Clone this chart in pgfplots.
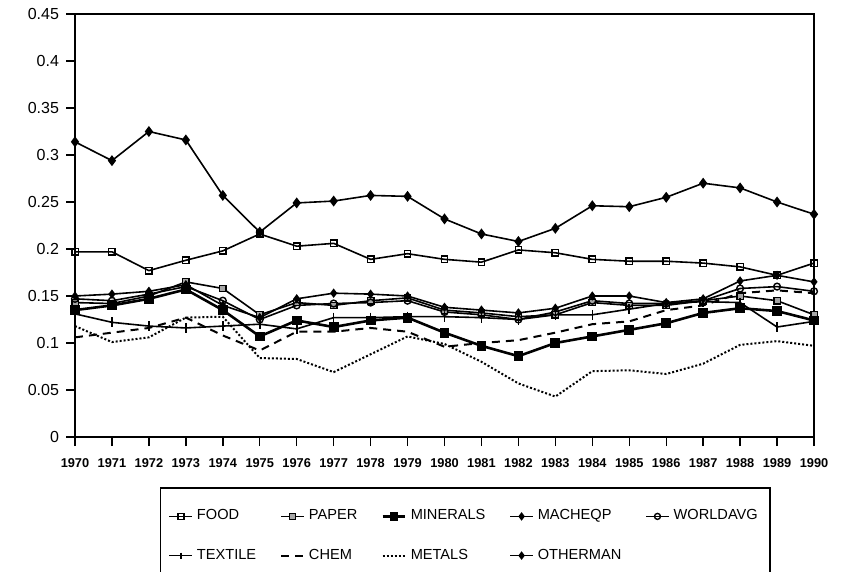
\documentclass[border=0pt]{standalone}
\usepackage{fontspec}
\setmainfont{Liberation Sans}
\usepackage{pgfplots}
\pgfplotsset{compat=1.18}
\usepackage{pgfplotstable}

\pgfplotstableread{
year food paper minerals macheqp worldavg textile chem metals otherman
1970 0.197 0.143 0.135 0.150 0.147 0.131 0.106 0.118 0.314
1971 0.197 0.142 0.140 0.152 0.145 0.122 0.111 0.101 0.294
1972 0.177 0.150 0.147 0.155 0.152 0.118 0.116 0.106 0.325
1973 0.188 0.165 0.157 0.162 0.160 0.116 0.127 0.127 0.316
1974 0.198 0.158 0.135 0.140 0.145 0.118 0.108 0.128 0.257
1975 0.216 0.130 0.107 0.127 0.125 0.120 0.092 0.084 0.218
1976 0.203 0.143 0.124 0.147 0.140 0.115 0.112 0.083 0.249
1977 0.206 0.140 0.117 0.153 0.142 0.127 0.112 0.069 0.251
1978 0.189 0.145 0.124 0.152 0.143 0.127 0.116 0.088 0.257
1979 0.195 0.148 0.127 0.150 0.145 0.128 0.112 0.107 0.256
1980 0.189 0.135 0.111 0.138 0.133 0.128 0.096 0.099 0.232
1981 0.186 0.132 0.097 0.135 0.130 0.127 0.100 0.080 0.216
1982 0.199 0.128 0.086 0.132 0.125 0.125 0.103 0.057 0.208
1983 0.196 0.130 0.100 0.137 0.133 0.130 0.111 0.043 0.222
1984 0.189 0.143 0.107 0.150 0.145 0.130 0.120 0.070 0.246
1985 0.187 0.140 0.114 0.150 0.142 0.136 0.123 0.071 0.245
1986 0.187 0.140 0.121 0.143 0.142 0.142 0.135 0.067 0.255
1987 0.185 0.145 0.132 0.147 0.145 0.144 0.140 0.078 0.270
1988 0.181 0.150 0.137 0.166 0.158 0.143 0.153 0.098 0.265
1989 0.172 0.145 0.134 0.172 0.160 0.117 0.156 0.102 0.250
1990 0.185 0.130 0.124 0.165 0.155 0.123 0.153 0.097 0.237
}\datatable

\begin{document}
\begin{tikzpicture}
\begin{axis}[
  at={(0,0)}, anchor=south west,
  scale only axis, width=369.5pt, height=211.5pt,
  xmin=1970, xmax=1990, ymin=0, ymax=0.45,
  xtick={1970,1971,...,1990},
  ytick={0,0.05,0.1,0.15,0.2,0.25,0.3,0.35,0.4,0.45},
  yticklabels={0,0.05,0.1,0.15,0.2,0.25,0.3,0.35,0.4,0.45},
  xticklabel style={font=\bfseries\fontsize{6.4}{7}\selectfont, yshift=-2.5pt},
  yticklabel style={font=\fontsize{8}{9}\selectfont},
  /pgf/number format/assume math mode=true,
  /pgf/number format/1000 sep={},
  tick align=outside, xtick pos=bottom, ytick pos=left,
  major tick length=4.5pt,
  tick style={black, line width=0.7pt},
  axis line style={line width=0.8pt},
  every axis plot/.append style={black, line width=0.8pt},
  legend columns=5,
  legend cell align=left,
  legend image code/.code={\draw[mark repeat=2,mark phase=2,mark size=1.5pt] plot coordinates {(0cm,0cm) (0.2cm,0cm) (0.4cm,0cm)};},
  legend style={at={(0.528,0)}, anchor=north, yshift=-25pt,
    draw=black, line width=0.8pt, font=\fontsize{7.3}{8}\selectfont,
    inner xsep=4pt, inner ysep=9pt, row sep=9pt,
    /tikz/every even column/.append style={column sep=10pt}},
]
\addplot[mark=square, mark size=1.6pt, mark options={fill=white, solid, line width=0.7pt}] table[x=year,y=food]{\datatable};
\addlegendentry{FOOD}
\addplot[mark=square*, mark size=1.6pt, mark options={fill=gray!70, solid, line width=0.7pt}] table[x=year,y=paper]{\datatable};
\addlegendentry{PAPER}
\addplot[line width=1.3pt, mark=square*, mark size=1.8pt, mark options={solid}] table[x=year,y=minerals]{\datatable};
\addlegendentry{MINERALS}
\addplot[mark=diamond*, mark size=1.7pt, mark options={solid}] table[x=year,y=macheqp]{\datatable};
\addlegendentry{MACHEQP}
\addplot[mark=o, mark size=1.7pt, mark options={fill=white, solid, line width=0.7pt}] table[x=year,y=worldavg]{\datatable};
\addlegendentry{WORLDAVG}
\addplot[mark=|, mark size=2.5pt, mark options={solid}] table[x=year,y=textile]{\datatable};
\addlegendentry{TEXTILE}
\addplot[line width=1pt, dash pattern=on 4pt off 3pt] table[x=year,y=chem]{\datatable};
\addlegendentry{CHEM}
\addplot[line width=1pt, dash pattern=on 1pt off 1pt] table[x=year,y=metals]{\datatable};
\addlegendentry{METALS}
\addplot[mark=diamond*, mark size=2.1pt, mark options={solid}] table[x=year,y=otherman]{\datatable};
\addlegendentry{OTHERMAN}
\end{axis}
\pgfresetboundingbox
\useasboundingbox (-37.5pt,-67.5pt) rectangle (387.5pt,218.5pt);
\end{tikzpicture}
\end{document}
